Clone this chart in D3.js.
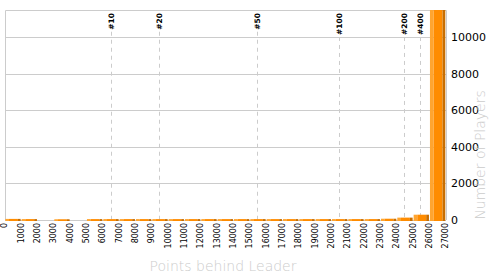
<!DOCTYPE html>
<html>
<head>
<meta charset="utf-8">
<script src="https://cdn.jsdelivr.net/npm/d3@7/dist/d3.min.js"></script>
<style>
  body { margin: 0; background: #fff; }
  svg { display: block; font-family: "DejaVu Sans", Verdana, sans-serif; }
</style>
</head>
<body>
<div id="chart"></div>
<script>
// bin edges (points behind leader)
const tickLabels = [0, 1000, 2000, 3000, 4000, 5000, 6000, 7000, 8000, 9000,
  10000, 11000, 12000, 13000, 14000, 15000, 16000, 17000, 18000, 19000,
  20000, 21000, 22000, 23000, 24000, 25000, 26000, 27000];

// players per bin (last bin runs off the top)
const counts = [60, 50, 0, 40, 0, 50, 50, 50, 50, 50, 50, 50, 50, 50,
  50, 50, 50, 50, 50, 50, 50, 50, 50, 70, 130, 290, 12500];

const yTicks = [0, 2000, 4000, 6000, 8000, 10000];

const rankLabels = ["#10", "#20", "#50", "#100", "#200", "#400"];
const rankPoints = [6470, 9450, 15450, 20470, 24450, 25430];

const width = 500, height = 275;
const mLeft = 5, mRight = 446, mTop = 10, mBottom = 220;

const x = d3.scaleLinear().domain([0, 27000]).range([mLeft, mRight]);
const y = d3.scaleLinear().domain([0, 11480]).range([mBottom, mTop]);

const svg = d3.select("#chart").append("svg")
  .attr("width", width)
  .attr("height", height);

svg.append("defs").append("clipPath").attr("id", "plot")
  .append("rect")
  .attr("x", mLeft).attr("y", mTop)
  .attr("width", mRight - mLeft).attr("height", mBottom - mTop + 2);

// grid lines
svg.append("g")
  .selectAll("line")
  .data(yTicks)
  .join("line")
  .attr("x1", mLeft).attr("x2", mRight)
  .attr("y1", d => Math.round(y(d)) + 0.5)
  .attr("y2", d => Math.round(y(d)) + 0.5)
  .attr("stroke", "#ccc");

// frame
svg.append("path")
  .attr("d", `M${mLeft + 0.5},${mBottom}V${mTop + 0.5}H${mRight + 0.5}V${mBottom}`)
  .attr("fill", "none")
  .attr("stroke", "#ccc");

// rank markers
const rank = svg.append("g");
rankLabels.forEach((lab, i) => {
  const px = Math.round(x(rankPoints[i])) + 0.5;
  const t = rank.append("text")
    .attr("transform", `translate(${px},13) rotate(-90)`)
    .attr("text-anchor", "end")
    .attr("dy", "0.35em")
    .attr("font-size", 7.5)
    .attr("font-weight", "bold")
    .attr("fill", "#000")
    .text(lab);
  const len = t.node().getComputedTextLength();
  rank.append("line")
    .attr("x1", px).attr("x2", px)
    .attr("y1", 13 + len + 2).attr("y2", mBottom)
    .attr("stroke", "#ccc")
    .attr("stroke-dasharray", "4,4");
});

// bars: light edge, face, dark side
const bars = svg.append("g").attr("clip-path", "url(#plot)");
counts.forEach((c, i) => {
  if (!c) return;
  const x0 = x(tickLabels[i]) + 0.3;
  const x1 = x(tickLabels[i + 1]) - 0.7;
  const w = x1 - x0;
  const yt = y(c);
  const h = mBottom + 1 - yt;
  bars.append("rect").attr("x", x0).attr("y", yt)
    .attr("width", w * 0.24).attr("height", h).attr("fill", "#ffa530");
  bars.append("rect").attr("x", x0 + w * 0.24).attr("y", yt)
    .attr("width", w * 0.58).attr("height", h).attr("fill", "#ff8c00");
  bars.append("rect").attr("x", x0 + w * 0.82).attr("y", yt)
    .attr("width", w * 0.18).attr("height", h).attr("fill", "#c86e00");
});

// y axis labels (right side)
svg.append("g")
  .selectAll("text")
  .data(yTicks)
  .join("text")
  .attr("x", 451)
  .attr("y", d => y(d))
  .attr("dy", "0.35em")
  .attr("font-size", 11)
  .attr("fill", "#000")
  .text(d => d);

// x axis labels (rotated)
svg.append("g")
  .selectAll("text")
  .data(tickLabels)
  .join("text")
  .attr("transform", d => `translate(${x(d) - 0.5},223) rotate(-90)`)
  .attr("text-anchor", "end")
  .attr("dy", "0.35em")
  .attr("font-size", 8)
  .attr("fill", "#000")
  .text(d => d);

// axis titles
svg.append("text")
  .attr("x", 223)
  .attr("y", 271)
  .attr("text-anchor", "middle")
  .attr("font-size", 14)
  .attr("font-weight", 200)
  .attr("fill", "#ccc")
  .text("Points behind Leader");

svg.append("text")
  .attr("transform", "translate(485,155) rotate(-90)")
  .attr("text-anchor", "middle")
  .attr("font-size", 14)
  .attr("font-weight", 200)
  .attr("fill", "#ccc")
  .text("Number of Players");
</script>
</body>
</html>
